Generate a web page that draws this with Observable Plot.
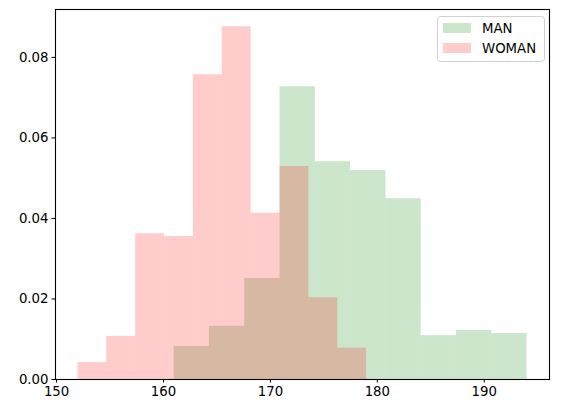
<!DOCTYPE html>
<html>
<head>
<meta charset="utf-8">
<script src="https://cdn.jsdelivr.net/npm/d3@7"></script>
<script src="https://cdn.jsdelivr.net/npm/@observablehq/plot@0.6"></script>
<style>
  html, body { margin: 0; padding: 0; background: #fff; }
</style>
</head>
<body>
<div id="chart"></div>
<script>
// Bin edges and density values
const manEdges = [161, 164.3, 167.6, 170.9, 174.2, 177.5, 180.8, 184.1, 187.4, 190.7, 194];
const manDensity = [0.0082, 0.0132, 0.0251, 0.0727, 0.0541, 0.0519, 0.0449, 0.0109, 0.0122, 0.0114];
const womanEdges = [152, 154.7, 157.4, 160.1, 162.8, 165.5, 168.2, 170.9, 173.6, 176.3, 179];
const womanDensity = [0.0042, 0.0107, 0.0362, 0.0355, 0.0757, 0.0876, 0.0413, 0.0529, 0.0203, 0.0078];
const seriesNames = ["MAN", "WOMAN"];
const seriesColors = ["green", "red"];
const xTicks = [150, 160, 170, 180, 190];
const yTicks = [0, 0.02, 0.04, 0.06, 0.08];

function toBins(edges, vals, name) {
  return vals.map((v, i) => ({x1: edges[i], x2: edges[i + 1], y: v, series: name}));
}
const manBins = toBins(manEdges, manDensity, seriesNames[0]);
const womanBins = toBins(womanEdges, womanDensity, seriesNames[1]);

const plot = Plot.plot({
  width: 564,
  height: 416,
  marginLeft: 55,
  marginRight: 15,
  marginTop: 9,
  marginBottom: 37,
  style: {fontFamily: "DejaVu Sans, sans-serif", fontSize: "13.3px", color: "black", background: "white"},
  x: {domain: [149.9, 196.1], ticks: xTicks, tickSize: 3.5, tickPadding: 3.5, label: null, tickFormat: d3.format("d")},
  y: {domain: [0, 0.0919], ticks: yTicks, tickSize: 3.5, tickPadding: 3.5, label: null, tickFormat: d3.format(".2f")},
  marks: [
    Plot.rectY(manBins, {x1: "x1", x2: "x2", y: "y", fill: seriesColors[0], fillOpacity: 0.2, inset: 0}),
    Plot.rectY(womanBins, {x1: "x1", x2: "x2", y: "y", fill: seriesColors[1], fillOpacity: 0.2, inset: 0}),
    Plot.frame({stroke: "black", strokeWidth: 1.1})
  ]
});
document.getElementById("chart").appendChild(plot);

// Legend (matplotlib-style, upper right)
const svg = d3.select(plot);
const lg = svg.append("g").attr("font-family", "DejaVu Sans, sans-serif").attr("font-size", 13.3).attr("text-anchor", "start");
lg.append("rect").attr("x", 437.5).attr("y", 16.5).attr("width", 107).attr("height", 45)
  .attr("rx", 3).attr("fill", "white").attr("fill-opacity", 0.8).attr("stroke", "#d0d0d0");
seriesNames.forEach((name, i) => {
  const y0 = 23 + i * 20;
  lg.append("rect").attr("x", 443).attr("y", y0).attr("width", 28).attr("height", 10)
    .attr("fill", seriesColors[i]).attr("fill-opacity", 0.2);
  lg.append("text").attr("x", 482).attr("y", y0 + 9.5).attr("text-anchor", "start").attr("fill", "black").text(name);
});
</script>
</body>
</html>
